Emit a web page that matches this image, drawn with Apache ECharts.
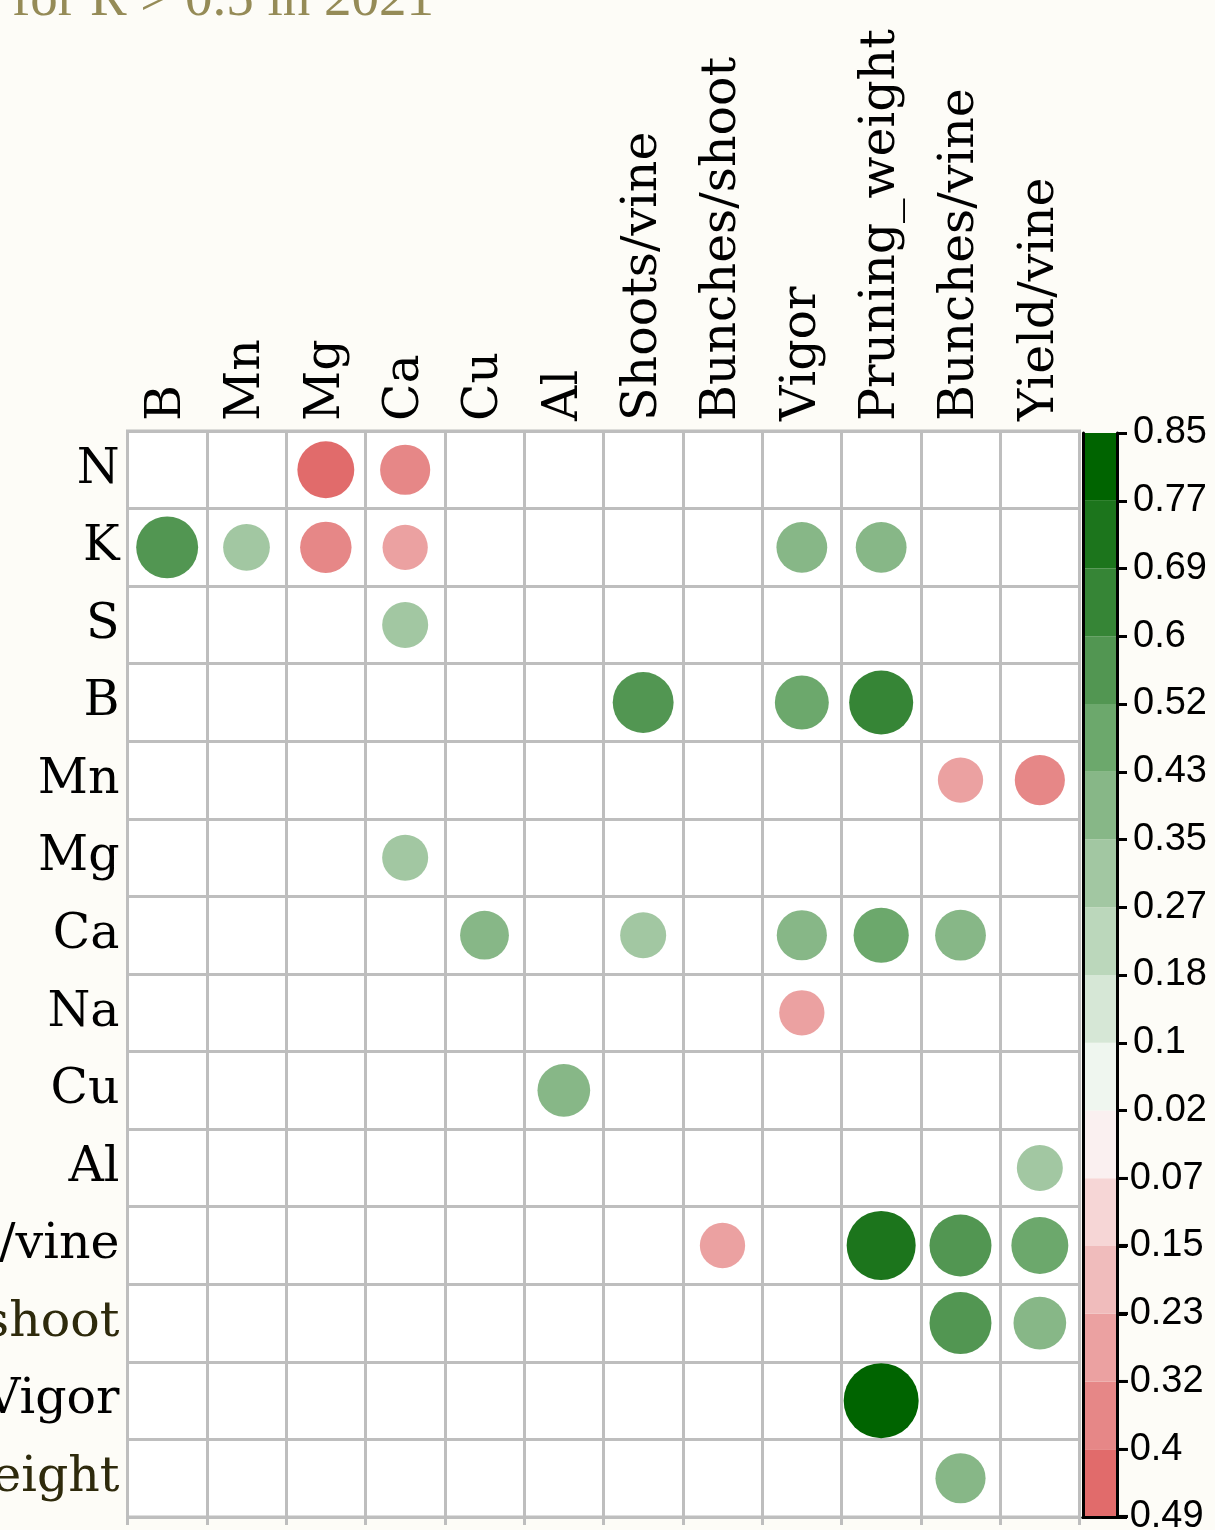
<!DOCTYPE html>
<html><head><meta charset="utf-8">
<script src="https://cdn.jsdelivr.net/npm/echarts@6/dist/echarts.min.js"></script>
<style>html,body{margin:0;padding:0;background:#fdfcf7}#c{width:1215px;height:1530px}</style>
</head><body><div id="c"></div><script>
// column (x) and row (y) variables
const colLabels = ['B','Mn','Mg','Ca','Cu','Al','Shoots/vine','Bunches/shoot','Vigor','Pruning_weight','Bunches/vine','Yield/vine'];
const rowLabels = ['N','K','S','B','Mn','Mg','Ca','Na','Cu','Al','Shoots/vine','Bunches/shoot','Vigor','Pruning_weight'];
// correlations shown: [row, column, r]
const rowN     = [['N','Mg',-0.49],['N','Ca',-0.38]];
const rowK     = [['K','B',0.58],['K','Mn',0.33],['K','Mg',-0.40],['K','Ca',-0.31],['K','Vigor',0.39],['K','Pruning_weight',0.39]];
const rowS     = [['S','Ca',0.32]];
const rowB     = [['B','Shoots/vine',0.56],['B','Vigor',0.44],['B','Pruning_weight',0.62]];
const rowMn    = [['Mn','Bunches/vine',-0.31],['Mn','Yield/vine',-0.38]];
const rowMg    = [['Mg','Ca',0.32]];
const rowCa    = [['Ca','Cu',0.36],['Ca','Shoots/vine',0.32],['Ca','Vigor',0.38],['Ca','Pruning_weight',0.46],['Ca','Bunches/vine',0.39]];
const rowNa    = [['Na','Vigor',-0.31]];
const rowCu    = [['Cu','Al',0.42]];
const rowAl    = [['Al','Yield/vine',0.32]];
const rowShoots   = [['Shoots/vine','Bunches/shoot',-0.31],['Shoots/vine','Pruning_weight',0.72],['Shoots/vine','Bunches/vine',0.58],['Shoots/vine','Yield/vine',0.49]];
const rowBunchesS = [['Bunches/shoot','Bunches/vine',0.58],['Bunches/shoot','Yield/vine',0.42]];
const rowVigor    = [['Vigor','Pruning_weight',0.85]];
const rowPruning  = [['Pruning_weight','Bunches/vine',0.38]];
// colour-key breaks (bottom to top)
const legendBreaks = [-0.49,-0.4,-0.32,-0.23,-0.15,-0.07,0.02,0.1,0.18,0.27,0.35,0.43,0.52,0.6,0.69,0.77,0.85];

const bandColors = ['#e16b6b','#e68787','#eba1a1','#f0bcbc','#f6d6d6','#faf0f0','#eff6ef','#d6e7d6','#bbd7bb','#a2c7a2','#87b787','#6ca86c','#529652','#368536','#1c751c','#006400'];
const allCells = [].concat(rowN,rowK,rowS,rowB,rowMn,rowMg,rowCa,rowNa,rowCu,rowAl,rowShoots,rowBunchesS,rowVigor,rowPruning);
const maxAbs = Math.max(...legendBreaks.map(Math.abs));
function bandOf(v){
  for (let i=0;i<legendBreaks.length-1;i++){ if (v < legendBreaks[i+1]) return i; }
  return legendBreaks.length-2;
}
const scatterData = allCells.map(c => [colLabels.indexOf(c[1]), rowLabels.indexOf(c[0]), c[2]]);
const darkRows = {'Bunches/shoot':'#2e2a0c','Pruning_weight':'#2e2a0c'};
const LBL_FONT = 'DejaVu Serif';

const chart = echarts.init(document.getElementById('c'), null, {renderer:'canvas'});
const barSeries = bandColors.map((col,i)=>({
  type:'bar', xAxisIndex:1, yAxisIndex:1, stack:'cb', barWidth:'100%', silent:true,
  data:[1], itemStyle:{color:col}
}));
const cbLabelStyle = {fontFamily:'Liberation Sans', fontSize:38, color:'#000', hideOverlap:false};
chart.setOption({
  backgroundColor:'#fdfcf7',
  animation:false,
  graphic:[{type:'text', left:12, top:-27, silent:true,
    style:{text:'for R > 0.5 in 2021', font:'55px "Liberation Serif"', fill:'#958b57'}}],
  grid:[
    {left:127.5, top:431, width:952, height:1086, show:true, backgroundColor:'#ffffff', borderColor:'#bebebe', borderWidth:3, containLabel:false, outerBoundsMode:'none'},
    {left:1083, top:433, width:34, height:1084, show:false, containLabel:false, outerBoundsMode:'none'}
  ],
  xAxis:[
    {type:'category', gridIndex:0, position:'top', data:colLabels,
     axisLine:{show:false}, axisTick:{show:false},
     splitLine:{show:true, interval:0, lineStyle:{color:'#bebebe', width:3}},
     axisLabel:{interval:0, rotate:-90, margin:10, fontFamily:LBL_FONT, fontSize:49, color:'#000', hideOverlap:false}},
    {type:'category', gridIndex:1, position:'bottom', data:['k'], z:10,
     axisLine:{show:true, lineStyle:{color:'#000', width:3}}, axisTick:{show:false}, axisLabel:{show:false}},
    {type:'category', gridIndex:1, position:'top', data:['k'], z:10,
     axisLine:{show:true, lineStyle:{color:'#000', width:3}}, axisTick:{show:false}, axisLabel:{show:false}},
    {type:'category', gridIndex:0, position:'bottom', data:colLabels,
     axisLine:{show:false}, axisLabel:{show:false},
     axisTick:{show:true, interval:0, length:8, lineStyle:{color:'#bebebe', width:3}}}
  ],
  yAxis:[
    {type:'category', gridIndex:0, inverse:true,
     data:rowLabels.map(r=>({value:r, textStyle:{color: darkRows[r] || '#000'}})),
     axisLine:{show:false}, axisTick:{show:false},
     splitLine:{show:true, interval:0, lineStyle:{color:'#bebebe', width:3}},
     axisLabel:{interval:0, margin:8, fontFamily:LBL_FONT, fontSize:49, color:'#000'}},
    {type:'value', gridIndex:1, position:'right', min:0, max:16, interval:1, z:10,
     axisLine:{show:true, lineStyle:{color:'#000', width:3}},
     axisTick:{show:true, length:10, lineStyle:{color:'#000', width:3}},
     splitLine:{show:false},
     axisLabel:Object.assign({margin:16, formatter:v=>legendBreaks[v] >= 0 ? String(legendBreaks[v]) : ''}, cbLabelStyle)},
    {type:'value', gridIndex:1, position:'left', min:0, max:16, interval:1, z:10,
     axisLine:{show:true, lineStyle:{color:'#000', width:3}},
     axisTick:{show:false}, axisLabel:{show:false}, splitLine:{show:false}},
    {type:'value', gridIndex:1, position:'right', min:0, max:16, interval:1, z:11,
     axisLine:{show:false}, axisTick:{show:false}, splitLine:{show:false},
     axisLabel:Object.assign({margin:0, formatter:v=>legendBreaks[v] < 0 ? String(legendBreaks[v]) : ''}, cbLabelStyle)}
  ],
  series:[
    {type:'scatter', xAxisIndex:0, yAxisIndex:0, data:scatterData, z:5, silent:true,
     symbol:'circle',
     symbolSize:d=>75*Math.sqrt(Math.abs(d[2])/maxAbs),
     itemStyle:{opacity:1, color:p=>bandColors[bandOf(p.data[2])]}}
  ].concat(barSeries)
});
</script></body></html>
